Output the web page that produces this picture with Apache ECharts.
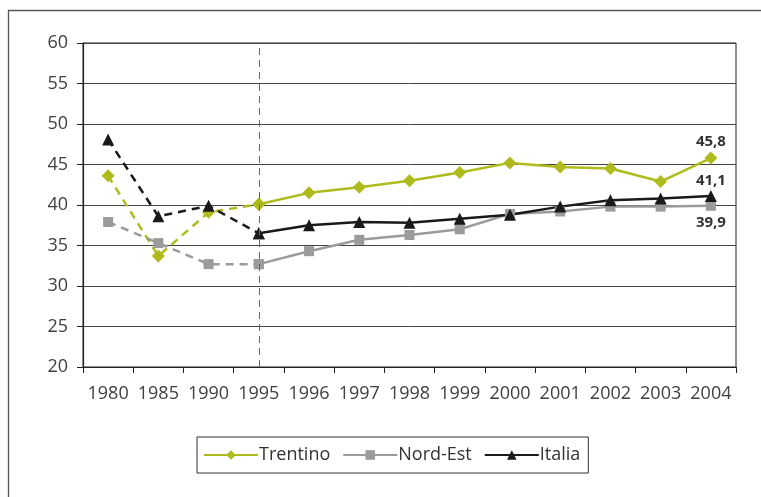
<!DOCTYPE html>
<html>
<head>
<meta charset="utf-8">
<script src="https://cdn.jsdelivr.net/npm/echarts@6/dist/echarts.min.js"></script>
<style>
html,body{margin:0;padding:0;background:#fff;}
#c{width:761px;height:497px;}
</style>
</head>
<body>
<div id="c"></div>
<script>
var categories = ['1980','1985','1990','1995','1996','1997','1998','1999','2000','2001','2002','2003','2004'];
var trentino = [43.6, 33.7, 39.1, 40.1, 41.5, 42.2, 43.0, 44.0, 45.2, 44.7, 44.5, 42.9, 45.8];
var nordEst  = [37.9, 35.3, 32.7, 32.7, 34.3, 35.7, 36.3, 37.0, 38.9, 39.2, 39.8, 39.8, 39.9];
var italia   = [48.1, 38.6, 39.9, 36.5, 37.5, 37.9, 37.8, 38.3, 38.8, 39.8, 40.6, 40.8, 41.1];
var splitIndex = 3; // 1995: dashed before, solid after
var yTicks = {min: 20, max: 60, interval: 5};

var colors = {Trentino: '#afbb1c', 'Nord-Est': '#9a9b9d', Italia: '#1a1a1a'};
var font = "'Open Sans', sans-serif";

function dashedPart(arr){ return arr.map(function(v,i){ return i <= splitIndex ? v : '-'; }); }
function solidPart(arr, labelPos){
  return arr.map(function(v,i){
    if (i < splitIndex) return '-';
    if (i === arr.length - 1) {
      return {value: v, label: {show: true, position: labelPos, formatter: String(v).replace('.', ','),
        fontFamily: font, fontWeight: 'bold', fontSize: 15, color: '#333', distance: labelPos === 'top' ? 2 : 4}};
    }
    return v;
  });
}

var defs = [
  {name: 'Trentino', data: trentino, symbol: 'diamond', size: 13, labelPos: 'top'},
  {name: 'Nord-Est', data: nordEst, symbol: 'rect', size: 10, labelPos: 'bottom'},
  {name: 'Italia', data: italia, symbol: 'triangle', size: 12, labelPos: 'top'}
];

var series = [];
defs.forEach(function(d){
  var c = colors[d.name];
  series.push({
    name: d.name + ' (stima)', type: 'line', data: dashedPart(d.data),
    symbol: d.symbol, symbolSize: d.size, itemStyle: {color: c},
    lineStyle: {color: c, width: 2.5, type: [8, 6]}, z: 2, animation: false
  });
  series.push({
    name: d.name, type: 'line', data: solidPart(d.data, d.labelPos),
    symbol: d.symbol, symbolSize: d.size, itemStyle: {color: c},
    lineStyle: {color: c, width: 2.5}, z: 3, animation: false
  });
});
series[0].markLine = {
  silent: true, symbol: 'none', animation: false,
  lineStyle: {color: '#666', type: [7, 5], width: 1},
  label: {show: false},
  data: [{xAxis: '1995'}]
};

var chart = echarts.init(document.getElementById('c'));
chart.setOption({
  animation: false,
  backgroundColor: '#fff',
  graphic: [{
    type: 'rect', silent: true, z: -1,
    shape: {x: 8.5, y: 10.5, width: 900, height: 700},
    style: {fill: 'none', stroke: '#555', lineWidth: 1.3}
  }],
  grid: {left: 83, right: 25, top: 43, bottom: 130, show: true, borderColor: '#222', borderWidth: 1, backgroundColor: 'transparent'},
  legend: {
    data: defs.map(function(d){ return d.name; }),
    left: 197, top: 437, width: 386, height: 38,
    padding: [9, 8, 9, 6], itemGap: 12, itemWidth: 54, itemHeight: 12,
    borderColor: '#333', borderWidth: 1,
    textStyle: {fontFamily: font, fontSize: 18, color: '#333', padding: [0, 0, 0, -4]}
  },
  xAxis: {
    type: 'category', data: categories, boundaryGap: true,
    axisLine: {lineStyle: {color: '#222', width: 1.2}},
    axisTick: {show: true, length: 6, lineStyle: {color: '#222'}},
    axisLabel: {fontFamily: font, fontSize: 18, color: '#404040', margin: 18, interval: 0},
    splitLine: {show: false}
  },
  yAxis: {
    type: 'value', min: yTicks.min, max: yTicks.max, interval: yTicks.interval,
    axisLine: {show: true, lineStyle: {color: '#222', width: 1.2}},
    axisTick: {show: true, length: 6, lineStyle: {color: '#222'}},
    axisLabel: {fontFamily: font, fontSize: 18, color: '#404040', margin: 15},
    splitLine: {show: true, lineStyle: {color: '#444', width: 1}}
  },
  series: series
});
</script>
</body>
</html>
